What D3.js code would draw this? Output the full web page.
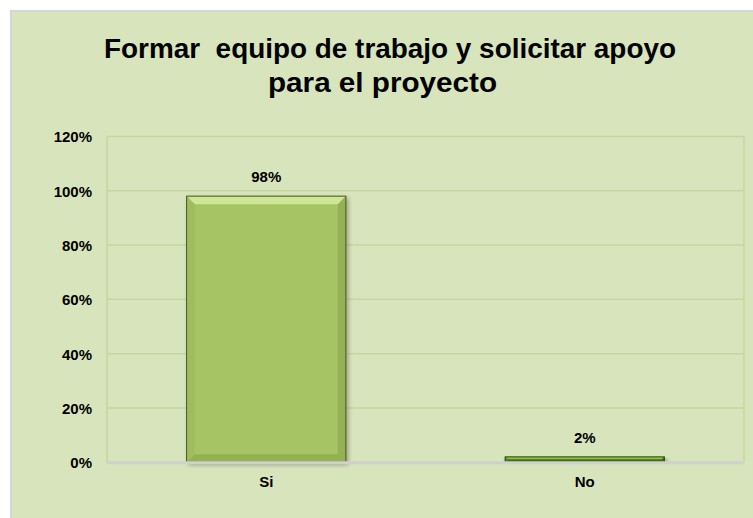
<!DOCTYPE html>
<html>
<head>
<meta charset="utf-8">
<script src="https://cdn.jsdelivr.net/npm/d3@7"></script>
<style>
  html, body { margin: 0; padding: 0; background: #ffffff; }
  svg { display: block; }
  text { font-family: "Liberation Sans", Arial, sans-serif; font-weight: bold; fill: #000; white-space: pre; }
</style>
</head>
<body>
<svg id="chart" width="753" height="518"></svg>
<script>
const titleLines = ["Formar  equipo de trabajo y solicitar apoyo", "para el proyecto"];
const categories = ["Si", "No"];
const values = [0.98, 0.02];
const valueLabels = ["98%", "2%"];
const yTicks = [0, 0.2, 0.4, 0.6, 0.8, 1.0, 1.2];
const yTickLabels = ["0%", "20%", "40%", "60%", "80%", "100%", "120%"];

const svg = d3.select("#chart");
const W = 753, H = 518;

// chart area
svg.append("rect").attr("x", 11).attr("y", 11).attr("width", W - 10).attr("height", H - 10)
  .attr("fill", "#d8e4bc").attr("stroke", "#d6d6d6").attr("stroke-width", 2);

// title
const titleSpec = [
  { cx: 390, y: 58, len: 572 },
  { cx: 382.5, y: 92, len: 229 }
];
titleLines.forEach((t, i) => {
  svg.append("text")
    .attr("x", titleSpec[i].cx - titleSpec[i].len / 2)
    .attr("y", titleSpec[i].y)
    .attr("font-size", 28)
    .attr("textLength", titleSpec[i].len)
    .attr("lengthAdjust", "spacingAndGlyphs")
    .attr("xml:space", "preserve")
    .text(t);
});

const plot = { left: 107, right: 744, top: 136.4, bottom: 462.3 };

const x = d3.scaleBand().domain(categories)
  .range([plot.left, plot.right]).paddingInner(0.5).paddingOuter(0.25);
const y = d3.scaleLinear().domain([0, 1.2]).range([plot.bottom, plot.top]);

const defs = svg.append("defs");
const sh = defs.append("filter").attr("id", "shadow").attr("x", "-10%").attr("y", "-10%").attr("width", "130%").attr("height", "130%");
sh.append("feGaussianBlur").attr("in", "SourceAlpha").attr("stdDeviation", 2);
sh.append("feOffset").attr("dx", 1.5).attr("dy", 1.5).attr("result", "b");
sh.append("feComponentTransfer").append("feFuncA").attr("type", "linear").attr("slope", 0.3);
const m = sh.append("feMerge");
m.append("feMergeNode");
m.append("feMergeNode").attr("in", "SourceGraphic");

// gridlines
svg.append("g").selectAll("line").data(yTicks.filter(d => d > 0)).join("line")
  .attr("x1", plot.left).attr("x2", plot.right)
  .attr("y1", d => y(d)).attr("y2", d => y(d))
  .attr("stroke", "#c4d79b").attr("stroke-width", 1.5);
svg.append("line").attr("x1", plot.left).attr("x2", plot.left).attr("y1", plot.top).attr("y2", plot.bottom)
  .attr("stroke", "#c4d79b").attr("stroke-width", 1.5);
svg.append("line").attr("x1", plot.right).attr("x2", plot.right).attr("y1", plot.top).attr("y2", plot.bottom)
  .attr("stroke", "#c4d79b").attr("stroke-width", 1.5);

// y axis labels
const yAxis = d3.axisLeft(y).tickValues(yTicks).tickFormat((d, i) => yTickLabels[i]).tickSize(0).tickPadding(15);
const ya = svg.append("g").attr("transform", `translate(${plot.left},0)`).call(yAxis);
ya.select(".domain").remove();
ya.selectAll("text").attr("font-size", 15).attr("font-family", "Liberation Sans, Arial, sans-serif")
  .attr("font-weight", "bold").attr("fill", "#000").attr("dy", "0.36em");

// bars with bevel
const barColors = [
  { main: "#a6c463", top: "#cfe696", bottom: "#93b153", left: "#a0bd5d", right: "#94b254", stroke: "#46591f" },
  { main: "#5a8c20", top: "#8cc04a", bottom: "#3f6a12", left: "#568a1e", right: "#3f6a12", stroke: "#2b4a0a" }
];
const bars = svg.append("g");
categories.forEach((c, i) => {
  const x0 = x(c), w = x.bandwidth(), y0 = y(values[i]), h = y(0) - y(values[i]);
  const b = Math.min(8, h / 2);
  const col = barColors[i];
  const g = bars.append("g").attr("filter", "url(#shadow)");
  g.append("rect").attr("x", x0).attr("y", y0).attr("width", w).attr("height", h).attr("fill", col.main);
  g.append("path").attr("d", `M${x0},${y0}L${x0 + w},${y0}L${x0 + w - b},${y0 + b}L${x0 + b},${y0 + b}Z`).attr("fill", col.top);
  g.append("path").attr("d", `M${x0},${y0 + h}L${x0 + w},${y0 + h}L${x0 + w - b},${y0 + h - b}L${x0 + b},${y0 + h - b}Z`).attr("fill", col.bottom);
  g.append("path").attr("d", `M${x0},${y0}L${x0 + b},${y0 + b}L${x0 + b},${y0 + h - b}L${x0},${y0 + h}Z`).attr("fill", col.left);
  g.append("path").attr("d", `M${x0 + w},${y0}L${x0 + w - b},${y0 + b}L${x0 + w - b},${y0 + h - b}L${x0 + w},${y0 + h}Z`).attr("fill", col.right);
  g.append("rect").attr("x", x0).attr("y", y0).attr("width", w).attr("height", h)
    .attr("fill", "none").attr("stroke", col.stroke).attr("stroke-width", 1);
});

// zero axis line
svg.append("line").attr("x1", plot.left).attr("x2", plot.right).attr("y1", y(0) + 0.5).attr("y2", y(0) + 0.5)
  .attr("stroke", "#d0d0d0").attr("stroke-width", 3);

// value labels
svg.append("g").selectAll("text").data(categories).join("text")
  .attr("x", d => x(d) + x.bandwidth() / 2)
  .attr("y", (d, i) => y(values[i]) - 14)
  .attr("text-anchor", "middle").attr("font-size", 15)
  .text((d, i) => valueLabels[i]);

// category labels
const xAxis = d3.axisBottom(x).tickSize(0).tickPadding(0);
const xa = svg.append("g").attr("transform", `translate(0,${plot.bottom})`).call(xAxis);
xa.select(".domain").remove();
xa.selectAll("text").attr("font-size", 15).attr("font-family", "Liberation Sans, Arial, sans-serif")
  .attr("font-weight", "bold").attr("fill", "#000").attr("dy", null).attr("y", 25);
</script>
</body>
</html>
